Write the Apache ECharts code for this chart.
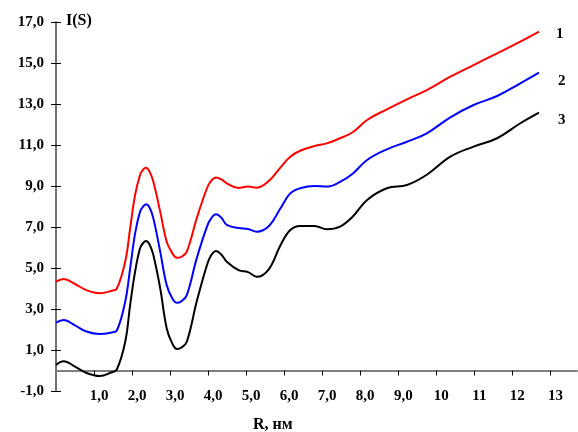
<!DOCTYPE html>
<html>
<head>
<meta charset="utf-8">
<script src="https://cdn.jsdelivr.net/npm/echarts@6/dist/echarts.min.js"></script>
<style>
  html, body { margin: 0; padding: 0; background: #fff; }
  #chart { width: 578px; height: 432px; }
</style>
</head>
<body>
<div id="chart"></div>
<script>
// R values (nm) where the curves were read
var rValues = [0, 0.2, 0.5, 0.8, 1.15, 1.45, 1.6, 1.82, 1.95, 2.08, 2.21, 2.29, 2.37, 2.46, 2.56, 2.74, 2.91,
  3.05, 3.18, 3.3, 3.44, 3.7, 3.97, 4.08, 4.21, 4.35, 4.49, 4.8, 5.05, 5.28, 5.6, 5.9, 6.16, 6.42, 6.8, 7.12, 7.47,
  7.8, 8.18, 8.7, 9.23, 9.75, 10.37, 10.98, 11.6, 12.21, 12.7];

var curve1 = [4.33, 4.46, 4.22, 3.92, 3.77, 3.88, 4.0, 5.31, 6.94, 8.56, 9.54, 9.8, 9.89, 9.7, 9.21, 7.75, 6.28,
  5.75, 5.5, 5.55, 5.8, 7.42, 8.89, 9.25, 9.41, 9.32, 9.13, 8.9, 8.97, 8.92, 9.25, 9.9, 10.43, 10.72, 10.95, 11.08, 11.33,
  11.62, 12.22, 12.74, 13.23, 13.68, 14.33, 14.9, 15.47, 16.04, 16.53];

var curve2 = [2.33, 2.46, 2.2, 1.9, 1.78, 1.85, 1.95, 3.36, 4.98, 6.69, 7.75, 8.0, 8.11, 7.95, 7.42, 5.8, 4.17,
  3.55, 3.3, 3.38, 3.68, 5.47, 7.02, 7.42, 7.62, 7.45, 7.1, 6.95, 6.9, 6.77, 7.05, 7.9, 8.64, 8.89, 9.0, 8.97, 9.2,
  9.6, 10.27, 10.79, 11.16, 11.57, 12.35, 12.95, 13.39, 14.01, 14.53];

var curve3 = [0.27, 0.45, 0.19, -0.12, -0.27, -0.1, 0.05, 1.4, 3.2, 4.82, 5.96, 6.22, 6.32, 6.15, 5.63, 4.01, 2.06,
  1.35, 1.05, 1.12, 1.4, 3.36, 5.15, 5.62, 5.83, 5.65, 5.31, 4.9, 4.8, 4.57, 4.95, 6.1, 6.85, 7.05, 7.05, 6.89, 7.02,
  7.5, 8.32, 8.89, 9.05, 9.55, 10.43, 10.92, 11.33, 12.06, 12.58];

var xTicks = [1, 2, 3, 4, 5, 6, 7, 8, 9, 10, 11, 12, 13];
var curveNames = ['1', '2', '3'];

var font = 'Liberation Serif';

var pairs = function (ys) {
  return rValues.map(function (r, i) { return [r, ys[i]]; });
};

var makeSeries = function (name, ys, color, labelOffset) {
  return {
    type: 'line',
    name: name,
    data: pairs(ys),
    smooth: 0.4,
    showSymbol: false,
    lineStyle: { color: color, width: 2 },
    endLabel: {
      show: true,
      formatter: name,
      offset: labelOffset,
      color: '#000',
      fontFamily: font,
      fontWeight: 'bold',
      fontSize: 15
    },
    silent: true
  };
};

var chart = echarts.init(document.getElementById('chart'));

chart.setOption({
  animation: false,
  grid: { left: 56, right: 1, top: 22, bottom: 41, containLabel: false, outerBoundsMode: 'none' },
  xAxis: {
    type: 'value',
    min: 0,
    max: 13.7,
    interval: 1,
    splitLine: { show: false },
    axisLine: { onZero: true, onZeroAxisIndex: 0, lineStyle: { color: '#808080', width: 2 } },
    axisTick: { customValues: xTicks, length: 5, lineStyle: { color: '#000', width: 1 } },
    axisLabel: {
      customValues: xTicks,
      margin: -2,
      padding: [0, 0, 0, 10],
      color: '#000',
      fontFamily: font,
      fontWeight: 'bold',
      fontSize: 15,
      formatter: function (v) {
        return v < 10 ? v.toFixed(1).replace('.', ',') : String(v);
      }
    }
  },
  yAxis: [
    {
      type: 'value',
      min: -1,
      max: 17,
      interval: 2,
      splitLine: { show: false },
      axisLine: { show: true, lineStyle: { color: '#404040', width: 1.5 } },
      axisTick: { length: 5, lineStyle: { color: '#000', width: 1 } },
      axisLabel: {
        margin: 12,
        color: '#000',
        fontFamily: font,
        fontWeight: 'bold',
        fontSize: 15,
        formatter: function (v) { return v.toFixed(1).replace('.', ','); }
      }
    },
    {
      type: 'value',
      position: 'left',
      offset: 0,
      min: -1,
      max: 17,
      interval: 2,
      splitLine: { show: false },
      axisLine: { show: false },
      axisTick: { inside: true, length: 5, lineStyle: { color: '#000', width: 1 } },
      axisLabel: { show: false }
    }
  ],
  graphic: [
    {
      type: 'text',
      left: 66,
      top: 13,
      style: { text: 'I(S)', fill: '#000', font: 'bold 16px "' + font + '"' }
    },
    {
      type: 'text',
      left: 253,
      top: 417,
      style: { text: 'R, нм', fill: '#000', font: 'bold 16px "' + font + '"' }
    }
  ],
  series: [
    makeSeries(curveNames[0], curve1, '#ff0000', [9, 2]),
    makeSeries(curveNames[1], curve2, '#0000ff', [11, 8]),
    makeSeries(curveNames[2], curve3, '#000000', [11, 8])
  ]
});
</script>
</body>
</html>
